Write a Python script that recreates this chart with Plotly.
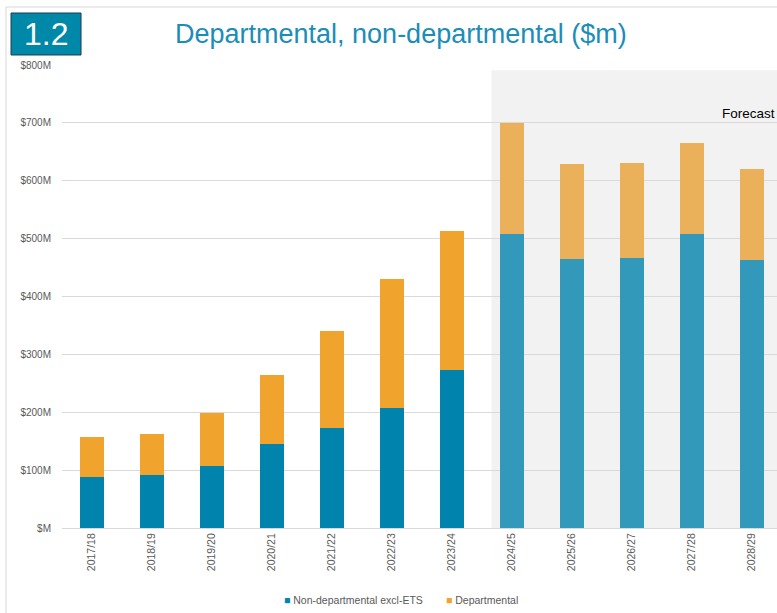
import plotly.graph_objects as go

years = ["2017/18", "2018/19", "2019/20", "2020/21", "2021/22", "2022/23", "2023/24",
         "2024/25", "2025/26", "2026/27", "2027/28", "2028/29"]
non_departmental = [88, 91, 107, 145, 173, 207, 273, 508, 465, 466, 508, 463]
totals = [157, 162, 198, 264, 340, 430, 513, 700, 629, 630, 665, 620]
departmental = [t - n for t, n in zip(totals, non_departmental)]
is_forecast = [False] * 7 + [True] * 5

tick_vals = [0, 100, 200, 300, 400, 500, 600, 700, 800]
tick_text = ["$M", "$100M", "$200M", "$300M", "$400M", "$500M", "$600M", "$700M", "$800M"]

ND_COLOR = "#0083AD"
DEP_COLOR = "#F0A42E"
nd_colors = ["#3399BA" if f else ND_COLOR for f in is_forecast]
dep_colors = ["#EBB15A" if f else DEP_COLOR for f in is_forecast]

fig = go.Figure()
fig.add_bar(x=years, y=non_departmental, name="Non-departmental excl-ETS",
            marker=dict(color=nd_colors, line=dict(width=0)), width=0.41)
fig.add_bar(x=years, y=departmental, name="Departmental",
            marker=dict(color=dep_colors, line=dict(width=0)), width=0.41)

# forecast shading
fig.add_shape(type="rect", xref="x", yref="y", x0=6.66, x1=11.6, y0=0, y1=791,
              fillcolor="#F2F2F2", line=dict(width=0), layer="below")
fig.add_annotation(x=10.47, y=717, xref="x", yref="y", text="Forecast", showarrow=False,
                   xanchor="left", yanchor="middle", font=dict(size=13.5, color="#000000"))

# outer frame
fig.add_shape(type="rect", xref="paper", yref="paper", x0=-0.0783, x1=1.05, y0=-0.3, y1=1.1253,
              line=dict(color="#D9D9D9", width=1), fillcolor="rgba(0,0,0,0)", layer="below")

# badge
fig.add_shape(type="rect", xref="paper", yref="paper", x0=-0.0713, x1=0.0266, y0=1.0216, y1=1.1123,
              fillcolor="#0088A8", line=dict(color="#1F3B4D", width=1))
fig.add_annotation(xref="paper", yref="paper", x=-0.0224, y=1.067, text="1.2", showarrow=False,
                   font=dict(size=32, color="#FFFFFF", family="Liberation Sans"),
                   xanchor="center", yanchor="middle")

# title
fig.add_annotation(xref="paper", yref="paper", x=(401 - 62) / 715, y=(528 - 34) / 463,
                   text="Departmental, non-departmental ($m)", showarrow=False,
                   font=dict(size=27, color="#1B8DB8", family="Liberation Sans"),
                   xanchor="center", yanchor="middle")

# legend (drawn as text)
legend_y = (528 - 600) / 463
fig.add_annotation(xref="paper", yref="paper", x=(282 - 62) / 715, y=legend_y,
                   text=f"<span style='color:{ND_COLOR}'>■</span> Non-departmental excl-ETS",
                   showarrow=False, xanchor="left", yanchor="middle",
                   font=dict(size=10.5, color="#595959"))
fig.add_annotation(xref="paper", yref="paper", x=(444 - 62) / 715, y=legend_y,
                   text=f"<span style='color:{DEP_COLOR}'>■</span> Departmental",
                   showarrow=False, xanchor="left", yanchor="middle",
                   font=dict(size=10.5, color="#595959"))

fig.update_layout(
    barmode="stack",
    width=777, height=613,
    margin=dict(l=62, r=0, t=65, b=85),
    paper_bgcolor="#FFFFFF", plot_bgcolor="rgba(0,0,0,0)",
    font=dict(family="Liberation Sans", color="#595959", size=10),
    showlegend=False,
    bargap=0.5,
)
fig.update_xaxes(type="category", range=[-0.5, 11.42], tickangle=-90, showgrid=False,
                 showline=True, linecolor="#D9D9D9", linewidth=1, ticks="",
                 tickfont=dict(size=10.5, color="#595959"))
fig.update_yaxes(range=[0, 800], tickvals=tick_vals, ticktext=tick_text, showgrid=True,
                 gridcolor="#D9D9D9", gridwidth=1, zeroline=False, showline=False,
                 tickfont=dict(size=10, color="#595959"), ticklabelstandoff=10)

fig.write_html("out.html")
